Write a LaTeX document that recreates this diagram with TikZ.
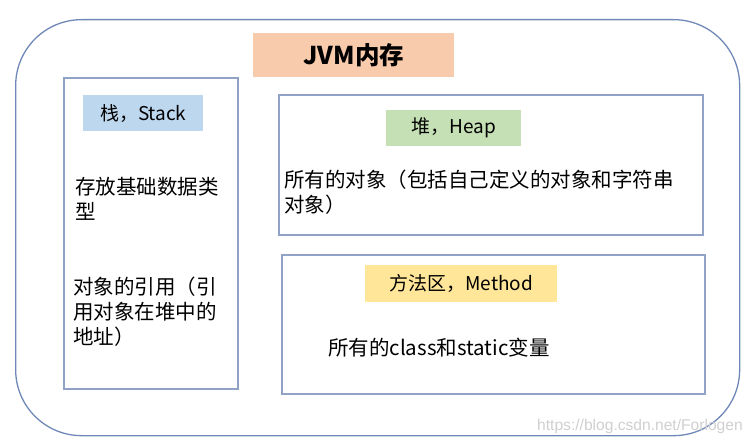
\documentclass[tikz,border=0pt]{standalone}
\usepackage{fontspec}
\setmainfont{Noto Sans CJK SC}
\newfontfamily\wmfont{Liberation Sans}
\definecolor{outerc}{HTML}{6F88B8}
\definecolor{innerc}{HTML}{90A3C6}
\definecolor{titlec}{HTML}{F8CBAD}
\definecolor{stackc}{HTML}{BDD7EE}
\definecolor{heapc}{HTML}{C5E0B4}
\definecolor{methc}{HTML}{FFE699}
\definecolor{wmc}{HTML}{CFCFCF}
\begin{document}
\begin{tikzpicture}[x=1pt,y=-1pt,
  area/.style={draw=innerc,line width=2pt,anchor=north west,inner sep=0pt},
  tag/.style={anchor=north west,inner sep=0pt,font=\fontsize{19}{23}\selectfont},
  body/.style={anchor=north west,inner sep=0pt,align=left,font=\fontsize{20.5}{25}\selectfont}]
\useasboundingbox (0,0) rectangle (754,444);
\node[draw=outerc,line width=1.3pt,rounded corners=66pt,anchor=north west,inner sep=0pt,
  minimum width=724pt,minimum height=416pt] (outer) at (15,19) {};
\node[anchor=north west,inner sep=0pt,fill=titlec,minimum width=201pt,minimum height=44pt,
  font=\fontsize{24.5}{29}\selectfont\bfseries] (title) at (253,33) {JVM内存};
\node[area,minimum width=174pt,minimum height=311pt] (stack) at (63,77) {};
\node[tag,fill=stackc,minimum width=120pt,minimum height=36pt] (stacklbl) at (83,95) {栈，Stack};
\node[area,minimum width=424pt,minimum height=140pt] (heap) at (278,94) {};
\node[tag,fill=heapc,minimum width=135pt,minimum height=36pt] (heaplbl) at (386,110) {堆，Heap};
\node[area,minimum width=423pt,minimum height=139pt] (method) at (281,254) {};
\node[tag,fill=methc,minimum width=192pt,minimum height=37pt] (methlbl) at (365,265) {方法区，Method};
\node[body] (s1) at (75,177) {存放基础数据类\\型};
\node[body] (s2) at (73,277) {对象的引用（引\\用对象在堆中的\\地址）};
\node[body] (h1) at (284,170) {所有的对象（包括自己定义的对象和字符串\\对象）};
\node[body] (m1) at (328,338) {所有的class和static变量};
\node[anchor=west,inner sep=0pt,text=wmc,font=\wmfont\fontsize{15.6}{18}\selectfont] (wm) at (537,426) {https://blog.csdn.net/Forlogen};
\end{tikzpicture}
\end{document}
